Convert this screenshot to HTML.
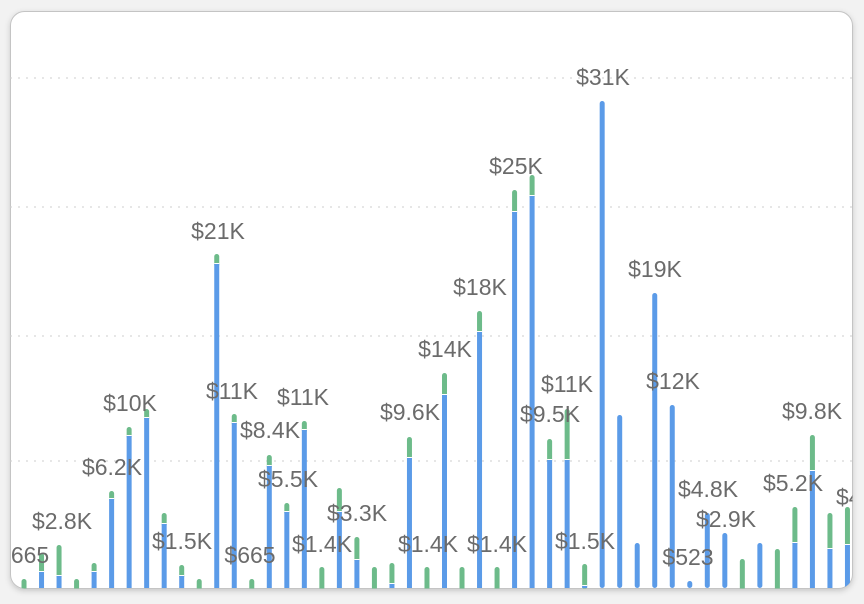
<!DOCTYPE html>
<html><head><meta charset="utf-8"><style>
html,body{margin:0;padding:0;background:#f2f2f2;width:864px;height:604px;overflow:hidden}
svg{display:block}
text{font-family:"Liberation Sans",sans-serif;font-size:23px;fill:#6b6b6b}
</style></head><body>
<svg width="864" height="604" viewBox="0 0 864 604">
<defs>
<clipPath id="c"><rect x="10.5" y="11.5" width="842" height="577" rx="14"/></clipPath>
<filter id="s" x="-5%" y="-5%" width="110%" height="110%"><feDropShadow dx="0" dy="2" stdDeviation="3" flood-color="#000" flood-opacity="0.18"/></filter>
</defs>
<rect x="10.5" y="11.5" width="842" height="577" rx="14" fill="#fff" stroke="#c4c4c4" stroke-width="1" filter="url(#s)"/>
<g clip-path="url(#c)" id="g">
<g stroke="#d8d8d8" stroke-width="1.2" stroke-dasharray="2 6">
<line x1="10" x2="853" y1="78" y2="78"/><line x1="10" x2="853" y1="207" y2="207"/>
<line x1="10" x2="853" y1="336" y2="336"/><line x1="10" x2="853" y1="461" y2="461"/>
</g>
</g>
</svg>
<script>
var B=[[580,575],[null,579],[572,553],[576,545],[null,579],[572,563],[499,491],[436,427],[418,409],[524,513],[576,565],[null,579],[264,254],[423,414],[null,579],[466,455],[512,503],[430,421],[null,567],[512,488],[560,537],[null,567],[584,563],[458,437],[null,567],[395,373],[null,567],[332,311],[null,567],[212,190],[196,175],[460,439],[460,409],[586,564],[101,null],[415,null],[543,null],[293,null],[405,null],[581,null],[513,null],[533,null],[null,559],[543,null],[null,549],[543,507],[471,435],[549,513],[545,507]];
var L=[["665",30,555],["$2.8K",62,521],["$6.2K",112,467],["$10K",130,403],["$1.5K",182,541],["$21K",218,231],["$11K",232,391],["$665",250,555],["$8.4K",270,430],["$5.5K",288,479],["$11K",303,397],["$1.4K",322,544],["$3.3K",357,513],["$9.6K",410,412],["$1.4K",428,544],["$14K",445,349],["$1.4K",497,544],["$18K",480,287],["$25K",516,166],["$11K",567,384],["$9.5K",550,414],["$1.5K",585,541],["$31K",603,77],["$19K",655,269],["$12K",673,381],["$4.8K",708,489],["$523",688,557],["$2.9K",726,519],["$5.2K",793,483],["$9.8K",812,411],["$4.1K",866,497]];
var g=document.getElementById('g'),h='',base=588,w=5;
B.forEach(function(b,i){var x=6.5+17.52*i-w/2;var bt=b[0],gt=b[1];
if(gt!==null){var gb=bt!==null?bt:base;h+='<rect x="'+x+'" y="'+gt+'" width="'+w+'" height="'+(gb-gt+3)+'" rx="2.5" fill="#6dbb8a"/>';}
if(bt!==null){if(gt!==null)h+='<rect x="'+x+'" y="'+(bt-1)+'" width="'+w+'" height="1" fill="#fff"/>';
h+='<rect x="'+x+'" y="'+bt+'" width="'+w+'" height="'+(base-bt)+'" rx="'+(gt===null?2.5:0)+'" fill="#5b9be8"/>';}});
L.forEach(function(l){h+='<text x="'+l[1]+'" y="'+(l[2]+8)+'" text-anchor="middle">'+l[0]+'</text>';});
g.insertAdjacentHTML('beforeend',h);
</script>
</body></html>
